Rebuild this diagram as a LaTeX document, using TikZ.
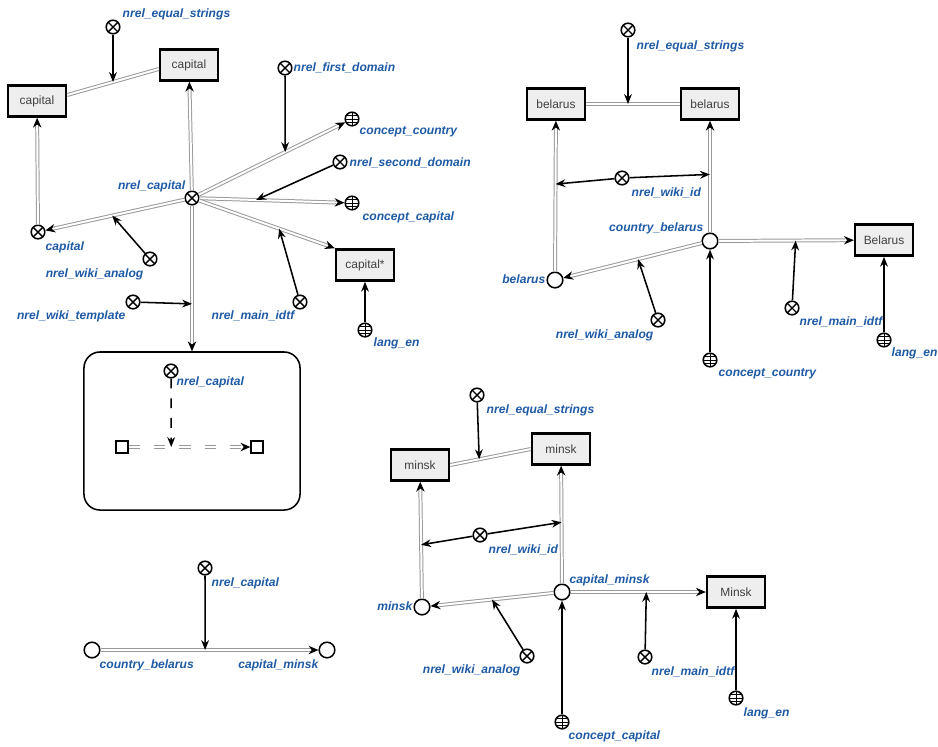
\documentclass[tikz,border=0pt]{standalone}
\usepackage{fontspec}
\setmainfont{Liberation Sans}
\usetikzlibrary{arrows.meta,calc,positioning}
\definecolor{lblblue}{RGB}{30,90,165}
\definecolor{boxfill}{RGB}{238,238,238}

\begin{document}
\begin{tikzpicture}[
  x=0.025cm, y=-0.025cm,
  rel/.style={circle, draw, line width=1.1pt, minimum size=3.4mm, inner sep=0pt, fill=white,
    path picture={\draw[line width=1pt] (path picture bounding box.north west) -- (path picture bounding box.south east)
      (path picture bounding box.north east) -- (path picture bounding box.south west);}},
  cls/.style={circle, draw, line width=1.1pt, minimum size=3.4mm, inner sep=0pt, fill=white,
    path picture={\draw[line width=0.5pt] (path picture bounding box.north) -- (path picture bounding box.south)
      (path picture bounding box.west) -- (path picture bounding box.east)
      ([yshift=0.9mm]path picture bounding box.west) -- ([yshift=0.9mm]path picture bounding box.east)
      ([yshift=-0.9mm]path picture bounding box.west) -- ([yshift=-0.9mm]path picture bounding box.east);}},
  elem/.style={circle, draw, line width=1.1pt, minimum size=3.9mm, inner sep=0pt, fill=white},
  idtf/.style={draw, line width=1.7pt, fill=boxfill, minimum width=14.5mm, minimum height=7.8mm,
    font=\fontsize{8.5}{10}\selectfont, text=black!75,
    path picture={\fill (path picture bounding box.north west) -- ++(1.6mm,0) -- ++(-1.6mm,-1.6mm) -- cycle;}},
  lbl/.style={text=lblblue, font=\fontsize{8.6}{10}\selectfont\bfseries\itshape, inner sep=1pt},
  arc/.style={draw=black!40, double=white, double distance=1.4pt, line width=0.7pt,
    -{Stealth[length=7pt, width=6pt, color=black]}},
  pair/.style={draw=black!40, double=white, double distance=1.4pt, line width=0.7pt},
  mem/.style={draw, line width=1.1pt, -{Stealth[length=7pt, width=5.5pt]}},
  sq/.style={draw, line width=0.9pt, minimum size=3mm, inner sep=0pt, fill=white},
  frame/.style={draw, line width=1.1pt, rounded corners=4mm, minimum width=5.4cm, minimum height=3.95cm}
]
\useasboundingbox (0,0) rectangle (938,746);

\node[idtf] (capR) at (189,65) {capital};
\node[idtf] (capL) at (37,101) {capital};
\node[rel] (eqs1) at (113,27) {};
\node[lbl, anchor=west] (eqs1l) at (121,14) {nrel\_equal\_strings};
\node[rel] (relC) at (192,198) {};
\node[lbl, anchor=east] (relCl) at (187,186) {nrel\_capital};
\node[cls] (cCountry) at (352,119) {};
\node[lbl, anchor=west] (cCountryl) at (358,132) {concept\_country};
\node[rel] (firstD) at (285,68) {};
\node[lbl, anchor=west] (firstDl) at (292,68) {nrel\_first\_domain};
\node[rel] (secondD) at (340,162) {};
\node[lbl, anchor=west] (secondDl) at (348,163) {nrel\_second\_domain};
\node[cls] (cCapital) at (352,203) {};
\node[lbl, anchor=west] (cCapitall) at (361,217) {concept\_capital};
\node[idtf] (capStar) at (365,265) {capital*};
\node[rel] (mainI) at (300,302) {};
\node[lbl, anchor=east] (mainIl) at (296,316) {nrel\_main\_idtf};
\node[cls] (langEn) at (365,330) {};
\node[lbl, anchor=west] (langEnl) at (372,343) {lang\_en};
\node[rel] (capE) at (38,232) {};
\node[lbl, anchor=west] (capEl) at (44,247) {capital};
\node[rel] (wikiA) at (150,259) {};
\node[lbl, anchor=east] (wikiAl) at (145,274) {nrel\_wiki\_analog};
\node[rel] (wikiT) at (133,302) {};
\node[lbl, anchor=east] (wikiTl) at (127,316) {nrel\_wiki\_template};
\node[frame] (frm) at (192,431) {};
\node[rel] (relI) at (171,371) {};
\node[lbl, anchor=west] (relIl) at (175,382) {nrel\_capital};
\node[sq] (sqL) at (122,447) {};
\node[sq] (sqR) at (257,447) {};

\draw[pair] ([yshift=1.5mm]capL.east) -- coordinate[pos=0.5] (e1) ([yshift=-1mm]capR.west);
\draw[mem] (eqs1) -- (e1);
\draw[arc] (relC) -- (capR);
\draw[arc] (relC) -- coordinate[pos=0.675] (t1) (frm.north);
\draw[mem] (wikiT) -- (t1);
\draw[arc] (relC) -- coordinate[pos=0.59] (d1) (cCountry);
\draw[mem] (firstD) -- (d1);
\draw[arc] (relC) -- coordinate[pos=0.39] (d2) (cCapital);
\draw[mem] (secondD) -- (d2);
\draw[arc] (relC) -- coordinate[pos=0.59] (m1) (capStar.north west);
\draw[mem] (mainI) -- (m1);
\draw[mem] (langEn) -- (capStar);
\draw[arc] (relC) -- coordinate[pos=0.52] (a1) (capE);
\draw[mem] (wikiA) -- (a1);
\draw[arc] (capE) -- (capL);
\draw[arc, dash pattern=on 8pt off 10pt] (sqL) -- coordinate[pos=0.35] (i1) (sqR);
\draw[mem, dash pattern=on 7pt off 7pt] (relI) -- (i1);

\node[rel] (relB) at (205,568) {};
\node[lbl, anchor=west] (relBl) at (210,583) {nrel\_capital};
\node[elem] (cb) at (92,650) {};
\node[elem] (cm) at (327,650) {};
\node[lbl, anchor=west] (cbl) at (98,665) {country\_belarus};
\node[lbl, anchor=east] (cml) at (320,665) {capital\_minsk};
\draw[arc] (cb) -- coordinate[pos=0.48] (b1) (cm);
\draw[mem] (relB) -- (b1);

\node[rel] (eqs2) at (628,30) {};
\node[lbl, anchor=west] (eqs2l) at (635,46) {nrel\_equal\_strings};
\node[idtf] (belL) at (556,104) {belarus};
\node[idtf] (belR) at (710,104) {belarus};
\node[elem] (cbel) at (710,241) {};
\node[lbl, anchor=east] (cbell) at (705,228) {country\_belarus};
\node[elem] (bel) at (555,280) {};
\node[lbl, anchor=east] (bell) at (547,279) {belarus};
\node[rel] (wikiId) at (622,178) {};
\node[lbl, anchor=west] (wikiIdl) at (630,193) {nrel\_wiki\_id};
\node[rel] (wikiA2) at (658,320) {};
\node[lbl, anchor=east] (wikiA2l) at (655,335) {nrel\_wiki\_analog};
\node[idtf] (belBox) at (884,240) {Belarus};
\node[rel] (mainI2) at (792,308) {};
\node[lbl, anchor=west] (mainI2l) at (798,322) {nrel\_main\_idtf};
\node[cls] (langEn2) at (884,340) {};
\node[lbl, anchor=west] (langEn2l) at (890,353) {lang\_en};
\node[cls] (cCountry2) at (710,360) {};
\node[lbl, anchor=west] (cCountry2l) at (717,374) {concept\_country};

\draw[pair] (belL) -- coordinate[pos=0.5] (e2) (belR);
\draw[mem] (eqs2) -- (eqs2 |- e2);
\draw[arc] (cbel) -- coordinate[pos=0.52] (w2) (belR);
\draw[arc] (bel) -- coordinate[pos=0.58] (w1) (belL);
\draw[mem] (wikiId) -- (w1);
\draw[mem] (wikiId) -- (w2);
\draw[arc] (cbel) -- coordinate[pos=0.46] (a2) (bel);
\draw[mem] (wikiA2) -- (a2);
\draw[arc] (cbel) -- coordinate[pos=0.57] (m2) (belBox);
\draw[mem] (mainI2) -- (m2);
\draw[mem] (langEn2) -- (belBox);
\draw[mem] (cCountry2) -- (cbel);

\node[rel] (eqs3) at (477,395) {};
\node[lbl, anchor=west] (eqs3l) at (485,410) {nrel\_equal\_strings};
\node[idtf] (minL) at (420,465) {minsk};
\node[idtf] (minR) at (561,449) {minsk};
\node[elem] (cmin) at (562,592) {};
\node[lbl, anchor=west] (cminl) at (568,580) {capital\_minsk};
\node[elem] (mins) at (422,607) {};
\node[lbl, anchor=east] (minsl) at (414,606) {minsk};
\node[rel] (wikiId3) at (480,535) {};
\node[lbl, anchor=west] (wikiId3l) at (487,550) {nrel\_wiki\_id};
\node[rel] (wikiA3) at (527,656) {};
\node[lbl, anchor=east] (wikiA3l) at (522,670) {nrel\_wiki\_analog};
\node[idtf] (minBox) at (736,592) {Minsk};
\node[rel] (mainI3) at (645,657) {};
\node[lbl, anchor=west] (mainI3l) at (650,672) {nrel\_main\_idtf};
\node[cls] (langEn3) at (736,698) {};
\node[lbl, anchor=west] (langEn3l) at (742,713) {lang\_en};
\node[cls] (cCap3) at (562,722) {};
\node[lbl, anchor=west] (cCap3l) at (567,736) {concept\_capital};

\draw[pair] (minL.east) -- coordinate[pos=0.36] (e3) (minR.west);
\draw[mem] (eqs3) -- (e3);
\draw[arc] (cmin) -- coordinate[pos=0.52] (w4) (minR);
\draw[arc] (mins) -- coordinate[pos=0.46] (w3) (minL);
\draw[mem] (wikiId3) -- (w3);
\draw[mem] (wikiId3) -- (w4);
\draw[arc] (cmin) -- coordinate[pos=0.5] (a3) (mins);
\draw[mem] (wikiA3) -- (a3);
\draw[arc] (cmin) -- coordinate[pos=0.56] (m3) (minBox);
\draw[mem] (mainI3) -- (m3);
\draw[mem] (langEn3) -- (minBox);
\draw[mem] (cCap3) -- (cmin);
\end{tikzpicture}
\end{document}
